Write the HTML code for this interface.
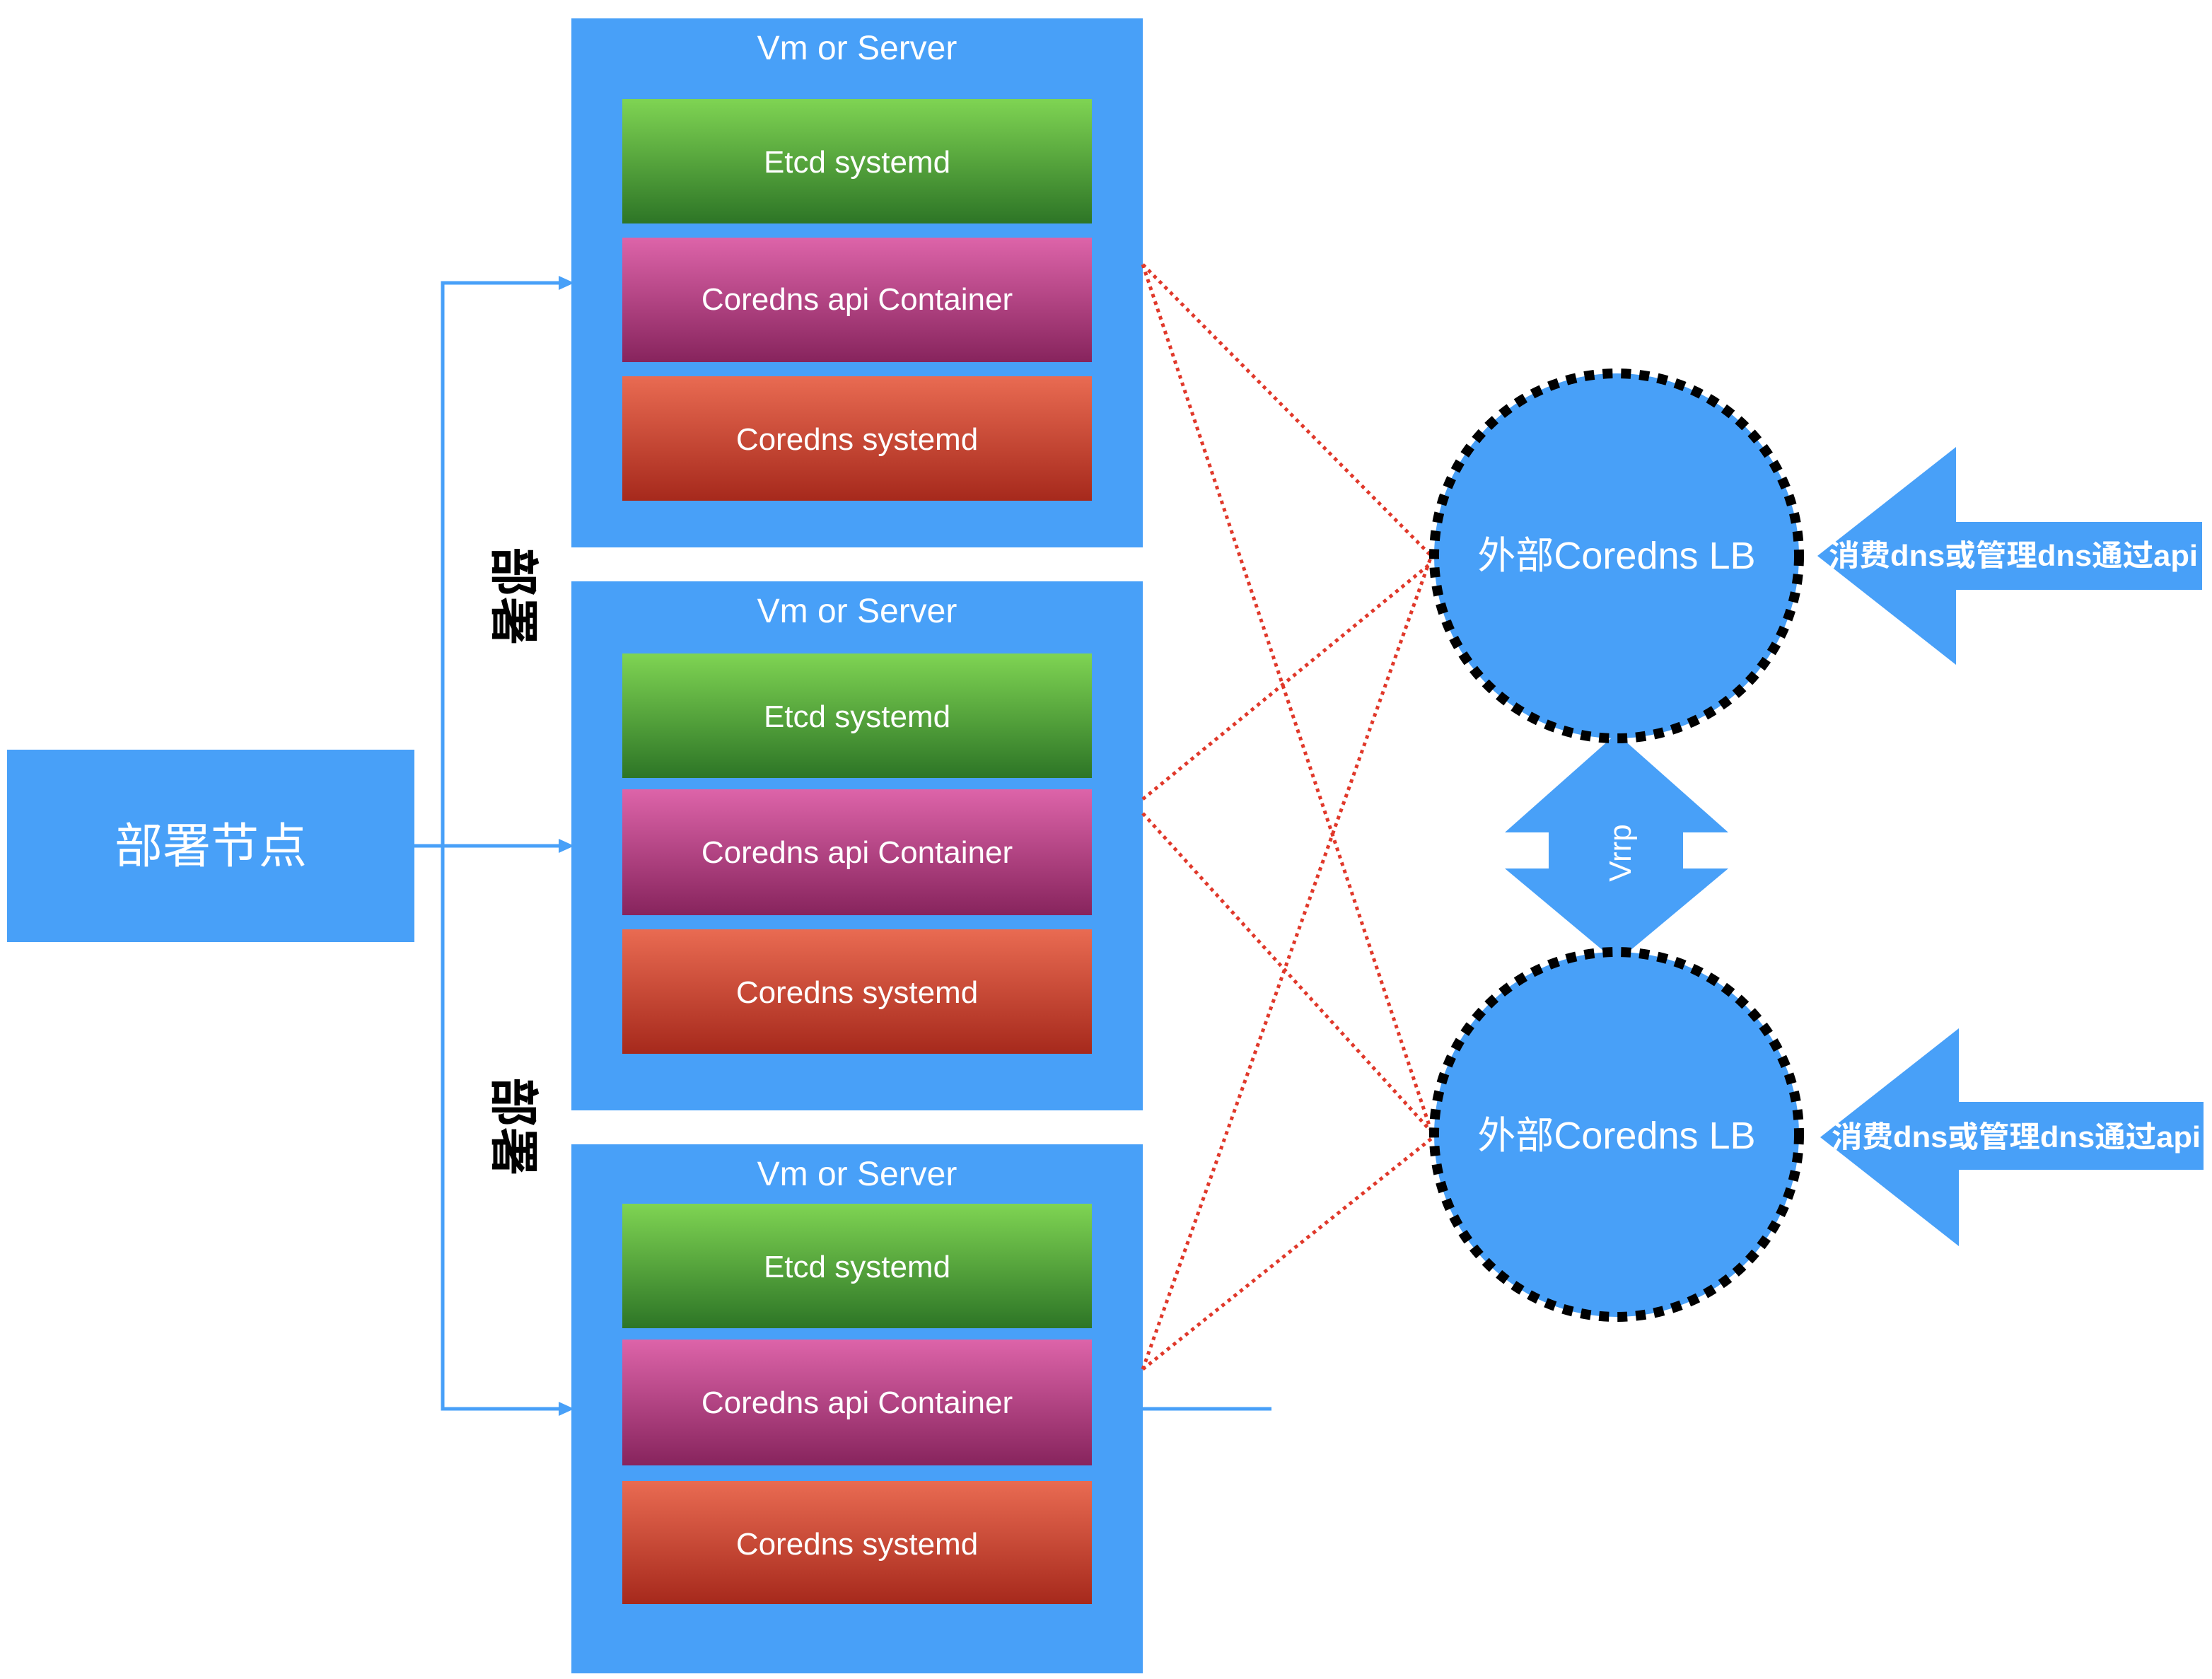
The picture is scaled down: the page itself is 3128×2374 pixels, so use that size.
<!DOCTYPE html>
<html><head><meta charset="utf-8"><style>
html,body{margin:0;padding:0;background:#fff}
svg{display:block}
text{font-family:"Liberation Sans","Noto Sans CJK SC",sans-serif}
</style></head><body>
<svg width="3128" height="2374" viewBox="0 0 3128 2374" xmlns="http://www.w3.org/2000/svg">
<defs>
<linearGradient id="g" x1="0" y1="0" x2="0" y2="1"><stop offset="0" stop-color="#7fd453"/><stop offset="1" stop-color="#2d7526"/></linearGradient>
<linearGradient id="p" x1="0" y1="0" x2="0" y2="1"><stop offset="0" stop-color="#dd64a9"/><stop offset="1" stop-color="#87245d"/></linearGradient>
<linearGradient id="r" x1="0" y1="0" x2="0" y2="1"><stop offset="0" stop-color="#e96b52"/><stop offset="1" stop-color="#a6291c"/></linearGradient>
</defs>
<rect x="10" y="1060" width="576" height="272" fill="#48a0f8"/>
<text x="298" y="1220" font-size="68" fill="#fff" text-anchor="middle">部署节点</text>
<g stroke="#48a0f8" stroke-width="5" fill="none">
<polyline points="586,1196 800,1196"/>
<polyline points="800,400 626,400 626,1992 800,1992"/>
<line x1="1616" y1="1992" x2="1798" y2="1992"/>
</g>
<g fill="#48a0f8">
<polygon points="812,400 790,390 790,410"/>
<polygon points="812,1196 790,1186 790,1206"/>
<polygon points="812,1992 790,1982 790,2002"/>
</g>
<text transform="translate(702,843) rotate(90)" font-size="70" font-weight="bold" text-anchor="middle" fill="#000">部署</text>
<text transform="translate(702,1593) rotate(90)" font-size="70" font-weight="bold" text-anchor="middle" fill="#000">部署</text>
<g font-size="44" fill="#fff" text-anchor="middle">
<rect x="808" y="26" width="808" height="748" fill="#48a0f8"/>
<text x="1212" y="84" font-size="48">Vm or Server</text>
<rect x="880" y="140" width="664" height="176" fill="url(#g)"/><text x="1212" y="244">Etcd systemd</text>
<rect x="880" y="336" width="664" height="176" fill="url(#p)"/><text x="1212" y="438">Coredns api Container</text>
<rect x="880" y="532" width="664" height="176" fill="url(#r)"/><text x="1212" y="636">Coredns systemd</text>

<rect x="808" y="822" width="808" height="748" fill="#48a0f8"/>
<text x="1212" y="880" font-size="48">Vm or Server</text>
<rect x="880" y="924" width="664" height="176" fill="url(#g)"/><text x="1212" y="1028">Etcd systemd</text>
<rect x="880" y="1116" width="664" height="178" fill="url(#p)"/><text x="1212" y="1220">Coredns api Container</text>
<rect x="880" y="1314" width="664" height="176" fill="url(#r)"/><text x="1212" y="1418">Coredns systemd</text>

<rect x="808" y="1618" width="808" height="748" fill="#48a0f8"/>
<text x="1212" y="1676" font-size="48">Vm or Server</text>
<rect x="880" y="1702" width="664" height="176" fill="url(#g)"/><text x="1212" y="1806">Etcd systemd</text>
<rect x="880" y="1894" width="664" height="178" fill="url(#p)"/><text x="1212" y="1998">Coredns api Container</text>
<rect x="880" y="2094" width="664" height="174" fill="url(#r)"/><text x="1212" y="2198">Coredns systemd</text>
</g>
<g stroke="#e0382a" stroke-width="5" stroke-dasharray="5,6" fill="none">
<line x1="1616" y1="374" x2="2024" y2="786"/>
<line x1="1616" y1="374" x2="2024" y2="1600"/>
<line x1="1616" y1="1130" x2="2024" y2="796"/>
<line x1="1616" y1="1150" x2="2024" y2="1600"/>
<line x1="1616" y1="1936" x2="2024" y2="786"/>
<line x1="1616" y1="1936" x2="2024" y2="1610"/>
</g>
<polygon points="2286,1037 2444,1177 2380,1177 2380,1228 2444,1228 2286,1360 2128,1228 2190,1228 2190,1177 2128,1177" fill="#48a0f8"/>
<text transform="translate(2306,1206) rotate(-90)" font-size="44" fill="#fff" text-anchor="middle">Vrrp</text>
<circle cx="2286" cy="786" r="258" fill="#48a0f8" stroke="#000" stroke-width="14" stroke-dasharray="14,12"/>
<text x="2286" y="804" font-size="54" fill="#fff" text-anchor="middle">外部Coredns LB</text>
<circle cx="2286" cy="1604" r="258" fill="#48a0f8" stroke="#000" stroke-width="14" stroke-dasharray="14,12"/>
<text x="2286" y="1624" font-size="54" fill="#fff" text-anchor="middle">外部Coredns LB</text>
<polygon points="2570,786 2766,632 2766,738 3114,738 3114,834 2766,834 2766,940" fill="#48a0f8"/>
<text x="2586" y="800" font-size="42" font-weight="bold" fill="#fff" textLength="522" lengthAdjust="spacingAndGlyphs">消费dns或管理dns通过api</text>
<polygon points="2574,1608 2770,1454 2770,1558 3116,1558 3116,1654 2770,1654 2770,1762" fill="#48a0f8"/>
<text x="2590" y="1622" font-size="42" font-weight="bold" fill="#fff" textLength="522" lengthAdjust="spacingAndGlyphs">消费dns或管理dns通过api</text>
</svg>
</body></html>
